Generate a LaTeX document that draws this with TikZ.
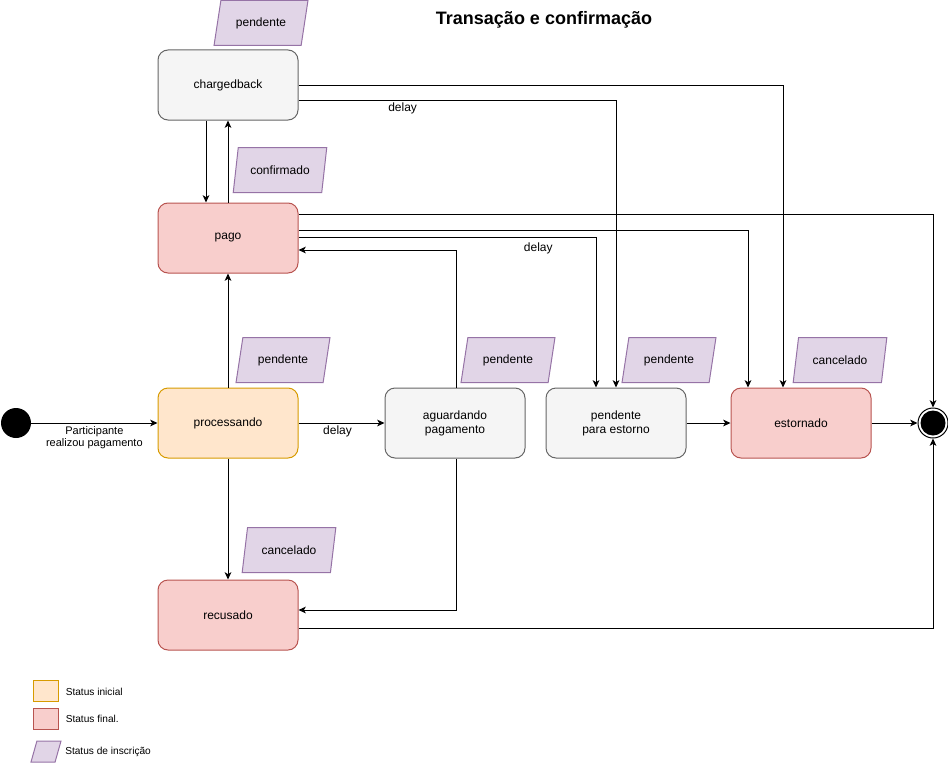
\documentclass[tikz,border=0pt]{standalone}
\usepackage{fontspec}
\setmainfont{Liberation Sans}
\usetikzlibrary{arrows.meta,shapes.geometric,calc}
\definecolor{cinzaF}{HTML}{F5F5F5}
\definecolor{cinzaB}{HTML}{666666}
\definecolor{vermF}{HTML}{F8CECC}
\definecolor{vermB}{HTML}{B85450}
\definecolor{laraF}{HTML}{FFE6CC}
\definecolor{laraB}{HTML}{D79B00}
\definecolor{roxoF}{HTML}{E1D5E7}
\definecolor{roxoB}{HTML}{9673A6}
\tikzset{
  estado/.style={draw, rounded corners=7.5pt, minimum width=105pt, minimum height=52.5pt,
    align=center, line width=0.75pt, font=\fontsize{9}{10.5}\selectfont},
  neutro/.style={estado, fill=cinzaF, draw=cinzaB},
  final/.style={estado, fill=vermF, draw=vermB},
  inicial/.style={estado, fill=laraF, draw=laraB},
  insc/.style={trapezium, trapezium left angle=72, trapezium right angle=108,
    trapezium stretches=true, minimum width=70.5pt, minimum height=33.75pt, inner sep=1pt,
    fill=roxoF, draw=roxoB, line width=0.75pt, font=\fontsize{9}{10.5}\selectfont},
  seta/.style={-{Stealth[length=5.5pt,width=5pt,inset=1.5pt]}, line width=0.75pt},
  rotulo/.style={font=\fontsize{9}{10.5}\selectfont, inner sep=2pt},
  legenda/.style={font=\fontsize{7.6}{9}\selectfont, anchor=west, inner sep=0pt}
}
\begin{document}
\begin{tikzpicture}[x=0.75pt, y=-0.75pt]
  \useasboundingbox (0,0) rectangle (948,767);

  \node[font=\bfseries\fontsize{13.5}{16}\selectfont] (titulo) at (544,20) {Transação e confirmação};

  % estados
  \node[neutro] (chargedback) at (228,85) {chargedback};
  \node[final] (pago) at (228,238) {pago};
  \node[inicial] (processando) at (228,423) {processando};
  \node[neutro] (aguardando) at (455,423) {aguardando\\pagamento};
  \node[neutro] (pendEstorno) at (616,423) {pendente\\para estorno};
  \node[final] (estornado) at (801,423) {estornado};
  \node[final] (recusado) at (228,615) {recusado};
  \node[circle, fill=black, minimum size=22.5pt, inner sep=0pt] (inicio) at (16,423) {};
  \node[circle, draw, fill=white, line width=0.75pt, minimum size=22.5pt, inner sep=0pt] (fim) at (933,423) {};
  \fill (fim.center) circle (12.5);

  % status de inscricao
  \foreach \n/\x/\y/\t in {iCharged/261/23/pendente, iPago/280/170/confirmado,
      iProc/283/360/pendente, iAguard/508/360/pendente, iPendEst/669/360/pendente,
      iEstorn/840/360/cancelado, iRecus/289/550/cancelado}{
    \node[insc] (\n) at (\x,\y) {\t};
  }

  % transicoes
  \draw[seta] (inicio) -- node[rotulo, below, align=center, font=\fontsize{8.25}{9.5}\selectfont]
    {Participante\\realizou pagamento} (processando);
  \draw[seta] (processando) -- node[rotulo, below, xshift=-3pt] {delay} (aguardando);
  \draw[seta] (processando) -- (pago);
  \draw[seta] (processando) -- (recusado);
  \draw[seta] (pago) -- (chargedback);
  \draw[seta] ($(chargedback.south)+(-22,0)$) -- ($(pago.north)+(-22,0)$);
  \draw[seta] (chargedback.east) -| ($(estornado.north)+(-18,0)$);
  \draw[seta] ($(chargedback.east)+(0,15)$) -| node[rotulo, below, pos=0.164] {delay} (pendEstorno.north);
  \draw[seta] ($(pago.east)+(0,-24)$) -| (fim.north);
  \draw[seta] ($(pago.east)+(0,-8)$) -| ($(estornado.north)+(-53,0)$);
  \draw[seta] ($(pago.east)+(0,-1)$) -| node[rotulo, below, pos=0.403, inner sep=4pt] {delay} ($(pendEstorno.north)+(-20,0)$);
  \draw[seta] ($(aguardando.north)+(1,0)$) |- ($(pago.east)+(0,12)$);
  \draw[seta] ($(aguardando.south)+(1,0)$) |- ($(recusado.east)+(0,-5)$);
  \draw[seta] (pendEstorno) -- (estornado);
  \draw[seta] (estornado) -- (fim);
  \draw[seta] ($(recusado.east)+(0,13)$) -| (fim.south);

  % legenda
  \node[draw=laraB, fill=laraF, line width=0.75pt, minimum width=18.75pt, minimum height=15.75pt] (legIni) at (45.5,690.5) {};
  \node[draw=vermB, fill=vermF, line width=0.75pt, minimum width=18.75pt, minimum height=15.75pt] (legFim) at (45.5,718.5) {};
  \node[insc, minimum width=22.5pt, minimum height=15.75pt] (legInsc) at (46,751.5) {};
  \node[legenda] (tIni) at ($(legIni.east)+(7,1)$) {Status inicial};
  \node[legenda] (tFim) at ($(legFim.east)+(7,0)$) {Status final.};
  \node[legenda] (tInsc) at (65,752) {Status de inscrição};
\end{tikzpicture}
\end{document}
